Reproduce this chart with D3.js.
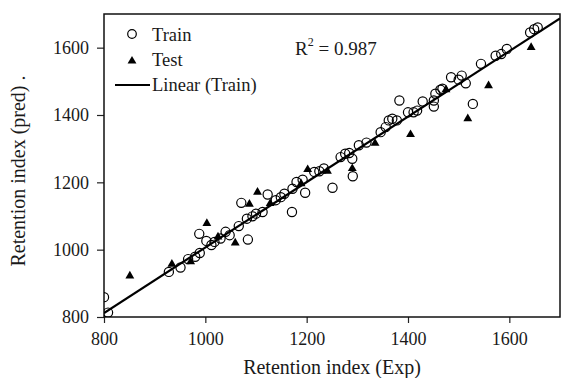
<!DOCTYPE html>
<html>
<head>
<meta charset="utf-8">
<script src="https://cdn.jsdelivr.net/npm/d3@7"></script>
<style>
  body { margin: 0; background: #fff; }
  svg text { font-family: "Liberation Serif", "Times New Roman", serif; fill: #1a1a1a; }
</style>
</head>
<body>
<div id="chart"></div>
<script>
// values
const trainExp = [800, 808, 928, 951, 966, 980, 989, 988, 1002, 1012, 1018, 1030, 1040, 1048, 1066, 1071, 1084, 1082,
  1093, 1100, 1113, 1123, 1139, 1149, 1156, 1171, 1172, 1180, 1192, 1197, 1215, 1225, 1234, 1251, 1267, 1276,
  1284, 1290, 1291, 1303, 1318, 1346, 1356, 1362, 1369, 1378, 1383, 1400, 1411, 1418, 1429, 1451, 1451, 1454,
  1464, 1468, 1485, 1500, 1506, 1514, 1528, 1544, 1573, 1584, 1595, 1641, 1649, 1656];
const trainPred = [859, 813, 934, 947, 972, 979, 990, 1047, 1026, 1014, 1023, 1033, 1053, 1043, 1070, 1139, 1030, 1092,
  1099, 1107, 1112, 1164, 1147, 1156, 1166, 1112, 1181, 1201, 1208, 1169, 1231, 1233, 1241, 1184, 1275, 1285,
  1287, 1270, 1218, 1310, 1318, 1349, 1364, 1384, 1389, 1384, 1443, 1408, 1408, 1413, 1440, 1425, 1443, 1463,
  1475, 1478, 1512, 1505, 1517, 1494, 1433, 1552, 1576, 1581, 1596, 1645, 1655, 1660];

const testExp = [851, 934, 971, 1003, 1025, 1059, 1087, 1103, 1128, 1189, 1202, 1241, 1290, 1335, 1405, 1475, 1518, 1559, 1643];
const testPred = [922, 957, 964, 1078, 1038, 1020, 1135, 1171, 1137, 1196, 1238, 1233, 1241, 1316, 1342, 1475, 1389, 1487, 1601];

const fitSlope = 0.972;
const fitIntercept = 34.4;
const fitRange = [800, 1700];

const xTicks = [800, 1000, 1200, 1400, 1600];
const yTicks = [800, 1000, 1200, 1400, 1600];

const width = 561, height = 378;
const margin = { top: 14, right: 1, bottom: 61, left: 104 };

const svg = d3.select('#chart').append('svg')
  .attr('width', width)
  .attr('height', height);

const x = d3.scaleLinear().domain([800, 1700]).range([margin.left, width - margin.right]);
const y = d3.scaleLinear().domain([800, 1700]).range([height - margin.bottom, margin.top]);

svg.append('clipPath').attr('id', 'plot-clip')
  .append('rect')
  .attr('x', x(800)).attr('y', y(1700))
  .attr('width', x(1700) - x(800)).attr('height', y(800) - y(1700));

// axes
const xAxis = svg.append('g')
  .attr('transform', `translate(0,${y(800)})`)
  .call(d3.axisBottom(x).tickValues(xTicks).tickSize(6).tickPadding(9).tickFormat(d3.format('d')));
const yAxis = svg.append('g')
  .attr('transform', `translate(${x(800)},0)`)
  .call(d3.axisLeft(y).tickValues(yTicks).tickSize(7).tickPadding(8).tickFormat(d3.format('d')));

[xAxis, yAxis].forEach(g => {
  g.attr('font-family', null).attr('font-size', null);
  g.select('.domain').remove();
  g.selectAll('line').attr('stroke', '#222').attr('stroke-width', 1.2);
  g.selectAll('text')
    .style('font-family', '"Liberation Serif", "Times New Roman", serif')
    .style('font-size', '18px')
    .style('fill', '#1a1a1a');
});

// frame
svg.append('rect')
  .attr('x', x(800)).attr('y', y(1700))
  .attr('width', x(1700) - x(800)).attr('height', y(800) - y(1700))
  .attr('fill', 'none').attr('stroke', '#111').attr('stroke-width', 1.5);

// regression line
const plot = svg.append('g').attr('clip-path', 'url(#plot-clip)');
plot.append('line')
  .attr('x1', x(fitRange[0])).attr('y1', y(fitIntercept + fitSlope * fitRange[0]))
  .attr('x2', x(fitRange[1])).attr('y2', y(fitIntercept + fitSlope * fitRange[1]))
  .attr('stroke', '#000').attr('stroke-width', 2.2);

// train points
plot.selectAll('.train')
  .data(d3.zip(trainExp, trainPred))
  .enter().append('circle')
  .attr('class', 'train')
  .attr('cx', d => x(d[0]))
  .attr('cy', d => y(d[1]))
  .attr('r', 4.6)
  .attr('fill', 'none')
  .attr('stroke', '#000')
  .attr('stroke-width', 1.2);

// test points
const tri = d3.symbol().type(d3.symbolTriangle).size(34);
plot.selectAll('.test')
  .data(d3.zip(testExp, testPred))
  .enter().append('path')
  .attr('class', 'test')
  .attr('d', tri)
  .attr('transform', d => `translate(${x(d[0])},${y(d[1])})`)
  .attr('fill', '#000');

// legend
const legend = svg.append('g').attr('font-size', 18.5);
legend.append('circle').attr('cx', 132).attr('cy', 34).attr('r', 4.3)
  .attr('fill', 'none').attr('stroke', '#000').attr('stroke-width', 1.2);
legend.append('text').attr('x', 152).attr('y', 41).text('Train');
legend.append('path').attr('d', tri).attr('transform', 'translate(132,61)').attr('fill', '#000');
legend.append('text').attr('x', 152).attr('y', 66).text('Test');
legend.append('line').attr('x1', 115).attr('x2', 150).attr('y1', 85).attr('y2', 85)
  .attr('stroke', '#000').attr('stroke-width', 2.2);
legend.append('text').attr('x', 152).attr('y', 91).text('Linear (Train)');

// R squared
const r2 = svg.append('text').attr('x', 295).attr('y', 55).attr('font-size', 19);
r2.append('tspan').text('R');
r2.append('tspan').attr('dy', -9).attr('font-size', 12).text('2');
r2.append('tspan').attr('dy', 9).text(' = 0.987');

// axis titles
svg.append('text')
  .attr('x', (x(800) + x(1700)) / 2)
  .attr('y', 374)
  .attr('text-anchor', 'middle')
  .attr('font-size', 20)
  .text('Retention index (Exp)');

svg.append('text')
  .attr('transform', `translate(25,${171}) rotate(-90)`)
  .attr('text-anchor', 'middle')
  .attr('font-size', 20)
  .text('Retention index (pred) .');
</script>
</body>
</html>
